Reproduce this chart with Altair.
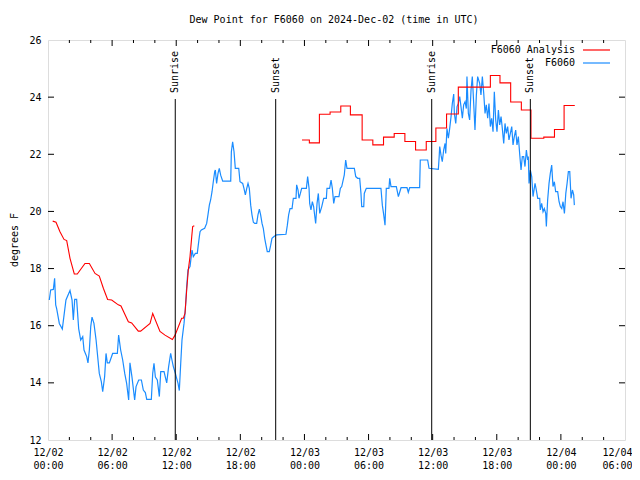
import altair as alt
import pandas as pd

# ---- data (hours since 2024-12-02 00:00 UTC, degrees F) ----
blue_h = [0.12,0.25,0.5,0.62,0.72,0.81,1.06,1.34,1.68,2.06,2.25,2.37,2.5,2.68,2.87,3.06,3.25,3.37,3.62,3.74,
          3.87,4.0,4.12,4.3,4.5,4.68,4.8,4.99,5.12,5.3,5.43,5.55,5.74,6.05,6.49,6.61,6.8,6.99,7.18,7.36,
          7.55,7.67,7.86,8.11,8.24,8.49,8.74,8.92,9.11,9.24,9.67,9.8,9.92,10.05,10.23,10.42,10.55,10.86,10.98,11.11,
          11.29,11.48,11.6,11.73,11.92,12.04,12.17,12.29,12.42,12.54,12.73,12.85,12.98,13.1,13.29,13.48,13.6,13.79,13.97,14.16,
          14.23,14.35,14.66,14.85,14.97,15.1,15.22,15.35,15.47,15.6,15.66,15.78,15.91,16.03,16.16,16.35,17.1,17.16,17.28,17.41,
          17.53,17.85,17.97,18.22,18.34,18.47,18.6,18.72,18.84,18.97,19.09,19.22,19.35,19.53,19.65,19.78,19.9,20.03,20.15,20.28,
          20.4,20.52,20.71,20.84,20.96,21.15,21.4,22.27,22.4,22.52,22.65,22.84,22.96,23.21,23.27,23.4,23.49,23.62,23.74,24.18,
          24.3,24.43,24.49,24.61,24.74,24.86,24.99,25.05,25.18,25.3,25.43,25.62,25.8,26.05,26.11,26.36,26.49,26.61,26.74,26.86,
          27.23,27.36,27.49,27.73,27.86,27.98,28.1,28.67,28.8,28.98,29.17,29.29,29.36,29.55,29.6,29.79,31.16,31.29,31.42,31.54,
          31.66,31.91,31.98,32.1,32.6,32.79,33.04,33.6,33.72,33.85,34.78,34.84,35.53,35.66,36.53,36.6,36.66,36.78,36.9,37.03,
          37.16,37.22,37.34,37.47,37.59,37.72,37.84,37.97,38.03,38.16,38.28,38.4,38.53,38.65,38.78,38.9,39.03,39.15,39.21,39.34,
          39.46,39.59,39.71,39.84,39.96,40.09,40.21,40.4,40.52,40.65,40.78,40.9,41.02,41.15,41.27,41.4,41.52,41.65,41.77,41.9,
          42.02,42.15,42.27,42.4,42.52,42.65,42.77,42.89,43.02,43.14,43.27,43.4,43.52,43.64,43.77,43.89,44.02,44.14,44.27,44.39,
          44.52,44.64,44.77,44.89,44.95,45.02,45.14,45.27,45.39,45.58,45.7,45.83,46.02,46.07,46.2,46.33,46.45,46.58,46.64,46.76,
          46.89,47.01,47.14,47.26,47.39,47.51,47.7,47.83,47.95,48.08,48.2,48.33,48.46,48.58,48.7,48.83,48.95,49.08,49.2,49.26]
blue_v = [16.9,17.25,17.27,17.66,16.73,16.6,16.08,15.88,16.9,17.23,16.9,16.2,16.92,16.92,15.9,15.5,15.62,15.15,14.92,14.7,
          15.15,15.97,16.3,16.08,15.5,14.8,14.33,14.04,13.69,14.22,15.03,14.7,14.7,15.03,15.03,15.67,15.15,14.8,14.33,13.98,
          13.4,14.7,14.2,13.4,13.87,14.1,14.1,13.75,13.66,13.42,13.42,14.33,14.68,14.2,14.1,13.52,14.39,14.39,14.2,14.0,
          14.57,15.03,14.8,14.57,14.33,14.16,13.98,13.73,14.68,15.5,16.08,16.55,17.37,17.95,18.07,18.65,18.42,18.53,18.53,19.11,
          19.29,19.35,19.41,19.58,19.88,20.22,20.4,20.69,21.04,21.39,21.45,20.98,21.33,21.51,21.27,21.06,21.06,22.09,22.44,22.09,
          21.51,21.51,21.04,20.98,20.81,20.58,20.81,20.98,20.81,20.22,19.88,19.62,19.58,19.58,19.88,20.08,19.88,19.58,19.41,19.06,
          18.82,18.59,18.59,18.82,19.06,19.12,19.18,19.2,19.52,19.88,20.1,20.1,20.46,20.46,20.93,20.75,20.46,20.63,20.81,20.81,
          21.22,20.81,20.28,20.05,20.34,20.17,19.76,19.58,20.28,20.63,19.93,20.17,20.46,20.46,20.81,20.81,21.1,20.81,20.28,20.52,
          20.52,20.81,20.87,21.28,21.8,21.51,21.51,21.51,21.22,21.16,21.16,20.63,20.17,20.17,20.63,20.81,20.81,20.22,19.88,19.52,
          20.81,20.81,21.16,20.87,20.87,20.52,20.83,20.83,20.67,20.83,20.83,21.8,21.8,21.51,21.47,21.86,22.27,21.97,21.74,22.15,
          22.38,22.03,22.9,22.56,22.9,23.32,23.78,24.11,23.43,23.08,23.67,23.78,24.02,23.67,23.26,23.73,23.84,23.6,24.72,23.43,
          23.2,24.25,24.72,23.78,22.85,24.08,24.72,24.48,24.08,24.72,24.13,23.43,23.73,23.26,23.78,22.97,23.26,22.79,24.19,23.2,
          22.79,23.55,23.03,23.32,22.9,22.38,23.08,22.73,22.97,22.5,22.73,22.97,22.33,22.62,22.85,22.33,22.62,22.03,21.45,21.92,
          21.92,21.57,22.15,21.8,21.92,20.98,21.45,21.22,20.52,20.98,20.75,20.46,20.46,20.05,20.28,19.99,20.1,19.93,19.47,20.4,
          20.98,21.33,21.62,20.87,21.04,20.69,20.69,20.34,20.17,20.1,20.34,19.93,20.63,20.98,21.39,21.39,20.46,20.75,20.58,20.22]

red1_h = [0.44,0.75,1.12,1.5,1.75,2.06,2.46,2.74,3.46,3.87,4.4,4.8,5.18,5.58,5.96,6.58,6.83,7.52,7.83,8.45,
          8.67,9.55,9.8,10.48,10.95,11.64,11.89,12.51,12.67,12.82,12.98,13.13,13.29,13.45,13.54,13.69]
red1_v = [19.66,19.62,19.29,19.02,18.98,18.36,17.81,17.81,18.18,18.18,17.83,17.74,17.31,16.92,16.9,16.73,16.69,16.14,16.1,15.81,
          15.81,16.08,16.43,15.8,15.67,15.52,15.67,16.26,16.26,16.43,17.25,17.95,18.42,19.11,19.47,19.5]

red2_h = [23.77,24.46,25.4,26.4,27.4,28.3,29.4,30.4,31.4,32.4,33.4,34.4,35.4,36.3,37.3,38.4,41.4,42.3,43.3,44.3,
          45.2,46.4,47.4,48.3,49.3]
red2_v = [22.5,22.4,23.4,23.48,23.69,23.38,22.5,22.33,22.6,22.73,22.45,22.15,22.45,22.92,23.41,24.35,24.76,24.5,23.83,23.55,
          22.56,22.6,22.87,23.71,23.71]

sun_h = [11.91, 21.31, 35.91, 45.14]
sun_label = ["Sunrise", "Sunset", "Sunrise", "Sunset"]

x_ticks = [0, 6, 12, 18, 24, 30, 36, 42, 48, 54]
x_minor = [h for h in range(2, 54, 2) if h % 6 != 0]
y_ticks = [12, 14, 16, 18, 20, 22, 24, 26]
tick_dates = ["12/02", "12/02", "12/02", "12/02", "12/03", "12/03", "12/03", "12/03", "12/04", "12/04"]
tick_times = ["00:00", "06:00", "12:00", "18:00", "00:00", "06:00", "12:00", "18:00", "00:00", "06:00"]

TITLE = "Dew Point for F6060 on 2024-Dec-02 (time in UTC)"
RED = "#ff0000"
BLUE = "#1a8cff"
FONT = "DejaVu Sans Mono"
W, H = 577, 400

xs = alt.Scale(domain=[0, 54], nice=False, zero=False)
ys = alt.Scale(domain=[12, 26], nice=False, zero=False)

blue_df = pd.DataFrame({"h": blue_h, "v": blue_v})
red1_df = pd.DataFrame({"h": red1_h, "v": red1_v})
red2_df = pd.DataFrame({"h": red2_h, "v": red2_v})
sun_df = pd.DataFrame({"h": sun_h, "label": sun_label})

dates_js = "[" + ",".join("'%s'" % d for d in tick_dates) + "]"
times_js = "[" + ",".join("'%s'" % t for t in tick_times) + "]"
label_expr = "[%s[round(datum.value/6)], %s[round(datum.value/6)]]" % (dates_js, times_js)
last_tick = "datum.value >= %d" % x_ticks[-1]

x_axis = alt.Axis(values=x_ticks, ticks=False, domain=False, grid=False, labelExpr=label_expr,
                  labelFont=FONT, labelFontSize=10, labelColor="black", labelPadding=7,
                  labelLineHeight=13, labelBaseline="top", labelFlush=False, labelOverlap=False, title=None,
                  labelAlign={"condition": {"test": last_tick, "value": "right"}, "value": "center"},
                  labelOffset={"condition": {"test": last_tick, "value": 7}, "value": 0})
y_axis = alt.Axis(values=y_ticks, ticks=False, domain=False, grid=False, labelFont=FONT,
                  labelFontSize=10, labelColor="black", labelPadding=7, title=None)


def X(field="h"):
    return alt.X(field + ":Q", scale=xs, axis=x_axis)


def Y(field="v"):
    return alt.Y(field + ":Q", scale=ys, axis=y_axis)


blue = alt.Chart(blue_df).mark_line(color=BLUE, strokeWidth=1.2).encode(x=X(), y=Y())
red1 = alt.Chart(red1_df).mark_line(color=RED, strokeWidth=1.1).encode(x=X(), y=Y())
red2 = alt.Chart(red2_df).mark_line(color=RED, strokeWidth=1.1, interpolate="step-after").encode(x=X(), y=Y())

sun_rules = alt.Chart(sun_df).mark_rule(color="black", strokeWidth=1).encode(
    x=X(), y=alt.value(59), y2=alt.value(H))
sun_text = alt.Chart(sun_df).mark_text(angle=270, align="left", baseline="middle", font=FONT,
                                       fontSize=10, color="black").encode(
    x=X(), y=alt.value(53), text="label:N")


def xt(vals, y0, y1):
    return alt.Chart(pd.DataFrame({"h": vals})).mark_rule(color="black", strokeWidth=1).encode(
        x=X(), y=alt.value(y0), y2=alt.value(y1))


def yt(vals, x0, x1):
    return alt.Chart(pd.DataFrame({"v": vals})).mark_rule(color="black", strokeWidth=1).encode(
        y=Y(), x=alt.value(x0), x2=alt.value(x1))


inner_x = x_ticks[1:-1]
inner_y = y_ticks[1:-1]
ticks = [xt(inner_x, H, H - 6), xt(inner_x, 0, 6), xt(x_minor, H, H - 3), xt(x_minor, 0, 3),
         yt(inner_y, 0, 6), yt(inner_y, W, W - 6)]


def label(txt, x, y, angle=0, align="center"):
    return alt.Chart(pd.DataFrame({"t": [txt]})).mark_text(
        font=FONT, fontSize=10, color="black", align=align, baseline="middle", angle=angle
    ).encode(x=alt.value(x), y=alt.value(y), text="t:N")


def sample(color, y):
    return alt.Chart(pd.DataFrame({"t": [0]})).mark_rule(color=color, strokeWidth=1.2).encode(
        x=alt.value(535), x2=alt.value(562), y=alt.value(y))


legend = [label("F6060 Analysis", 527, 10, align="right"), sample(RED, 10),
          label("F6060", 527, 23, align="right"), sample(BLUE, 23)]

title = label(TITLE, 286, -20)
ylab = label("degrees F", -33, 200, angle=270)

chart = alt.layer(blue, red1, red2, sun_rules, sun_text, *ticks, *legend, title, ylab).properties(
    width=W, height=H,
    autosize=alt.AutoSizeParams(type="none"),
    padding={"left": 40, "top": 32, "right": 7, "bottom": 30},
).configure_view(stroke="black", strokeWidth=1).configure(background="white")

chart.save("out.html", embed_options={"renderer": "svg", "actions": False})
